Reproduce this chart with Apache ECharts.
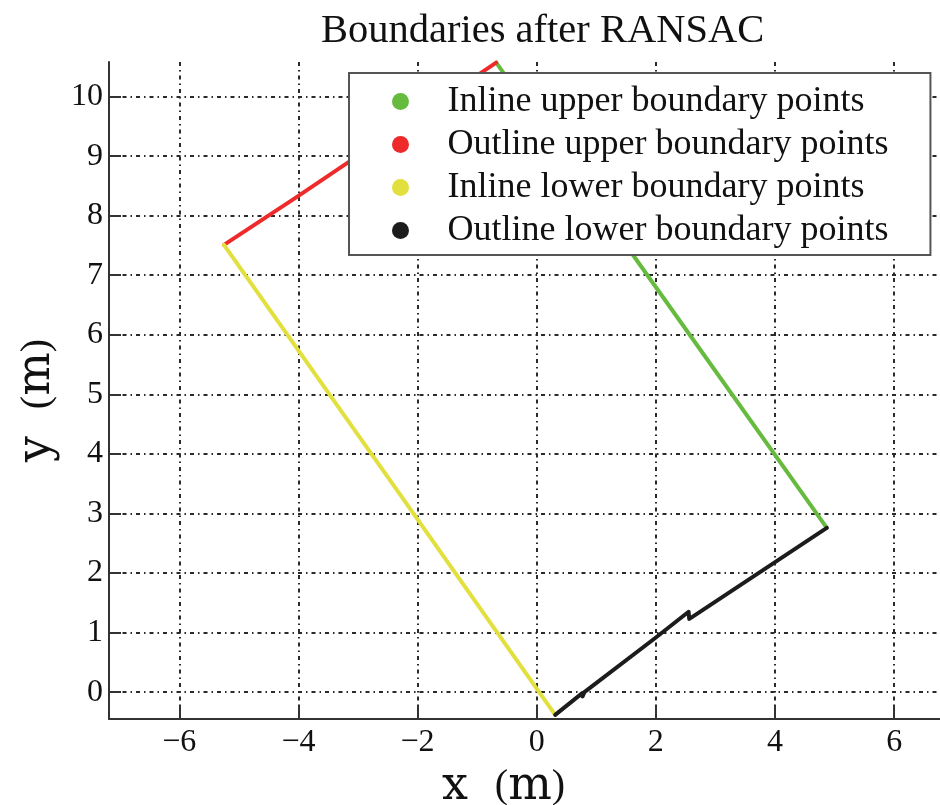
<!DOCTYPE html>
<html>
<head>
<meta charset="utf-8">
<script src="https://cdn.jsdelivr.net/npm/echarts@6/dist/echarts.min.js"></script>
<style>
  html, body { margin: 0; padding: 0; background: #fff; }
  #chart { width: 940px; height: 805px; }
</style>
</head>
<body>
<div id="chart"></div>
<script>
// Boundary points after RANSAC fitting, as [x, y] in metres
const inlineUpper = [[-0.68, 10.57], [2.10, 6.66], [4.87, 2.76]];
const outlineUpper = [[-5.25, 7.51], [-4.05, 8.30], [-0.68, 10.57]];
const inlineLower = [[-5.25, 7.51], [-2.47, 3.57], [0.31, -0.38]];
const outlineLower = [
  [0.31, -0.38], [0.76, -0.02], [0.77, -0.07], [0.80, 0.00],
  [1.99, 0.91], [2.55, 1.35], [2.56, 1.23], [2.62, 1.27], [4.87, 2.76]
];

const seriesNames = [
  'Inline upper boundary points',
  'Outline upper boundary points',
  'Inline lower boundary points',
  'Outline lower boundary points'
];
const seriesColors = ['#66bb3f', '#ee2a2a', '#e2e03e', '#1c1c1c'];

const xTicks = [-6, -4, -2, 0, 2, 4, 6];
const yTicks = [0, 1, 2, 3, 4, 5, 6, 7, 8, 9, 10];
const xRange = [-7.18, 6.77];
const yRange = [-0.45, 10.58];

const FONT = '"Liberation Serif", "Times New Roman", serif';
const WIDE = '"DejaVu Serif", serif';
const fmt = v => (v < 0 ? '\u2212' + Math.abs(v) : String(v));

// rich styles for the axis titles: wide letters, a fixed gap, shorter parentheses
const nameRich = {
  v: { fontFamily: WIDE, fontSize: 46, color: '#111' },
  g: { fontFamily: FONT, fontSize: 40, width: 27 },
  p: { fontFamily: FONT, fontSize: 40, color: '#111' }
};

const gridLine = { show: true, lineStyle: { color: '#2a2a2a', width: 2, type: [4, 4, 1.5, 4] } };

const chart = echarts.init(document.getElementById('chart'), null, { renderer: 'canvas' });

chart.setOption({
  animation: false,
  backgroundColor: '#fff',
  title: {
    text: 'Boundaries after RANSAC',
    left: 316,
    top: 6,
    textStyle: { fontFamily: FONT, fontSize: 40.5, fontWeight: 'normal', color: '#111' }
  },
  grid: { left: 109, top: 62, right: 0, bottom: 86, outerBoundsMode: 'none' },
  legend: {
    orient: 'vertical',
    left: 349,
    top: 73,
    padding: [7, 42, 3, 43],
    itemGap: 0,
    itemWidth: 84,
    itemHeight: 17,
    icon: 'circle',
    backgroundColor: '#fff',
    borderColor: '#555',
    borderWidth: 2,
    borderRadius: 0,
    textStyle: { fontFamily: FONT, fontSize: 36, color: '#111', lineHeight: 43 },
    data: seriesNames
  },
  xAxis: {
    type: 'value',
    min: xRange[0],
    max: xRange[1],
    name: '{v|x}{g| }{p|(}{v|m}{p|)}',
    nameLocation: 'middle',
    nameGap: 38,
    nameTextStyle: { padding: [0, 42, 0, 0], rich: nameRich },
    axisLine: { show: true, onZero: false, lineStyle: { color: '#333', width: 2 } },
    axisTick: { show: true, inside: true, length: 13, customValues: xTicks, lineStyle: { color: '#333', width: 2 } },
    axisLabel: { customValues: xTicks, formatter: fmt, margin: 8, fontFamily: FONT, fontSize: 32, color: '#111' },
    splitLine: gridLine
  },
  yAxis: {
    type: 'value',
    min: yRange[0],
    max: yRange[1],
    name: '{v|y}{g| }{p|(}{v|m}{p|)}',
    nameLocation: 'middle',
    nameGap: 44,
    nameRotate: 90,
    nameTextStyle: { padding: [0, 20, 0, 0], rich: nameRich },
    axisLine: { show: true, onZero: false, lineStyle: { color: '#333', width: 2 } },
    axisTick: { show: true, inside: true, length: 12, customValues: yTicks, lineStyle: { color: '#333', width: 2 } },
    axisLabel: { customValues: yTicks, formatter: fmt, margin: 6, fontFamily: FONT, fontSize: 32, color: '#111' },
    splitLine: gridLine
  },
  series: [inlineUpper, outlineUpper, inlineLower, outlineLower].map((pts, i) => ({
    name: seriesNames[i],
    type: 'line',
    data: pts,
    showSymbol: false,
    symbol: 'circle',
    color: seriesColors[i],
    lineStyle: { color: seriesColors[i], width: 4, join: 'round', cap: 'round' },
    clip: false,
    z: 3
  }))
});
</script>
</body>
</html>
